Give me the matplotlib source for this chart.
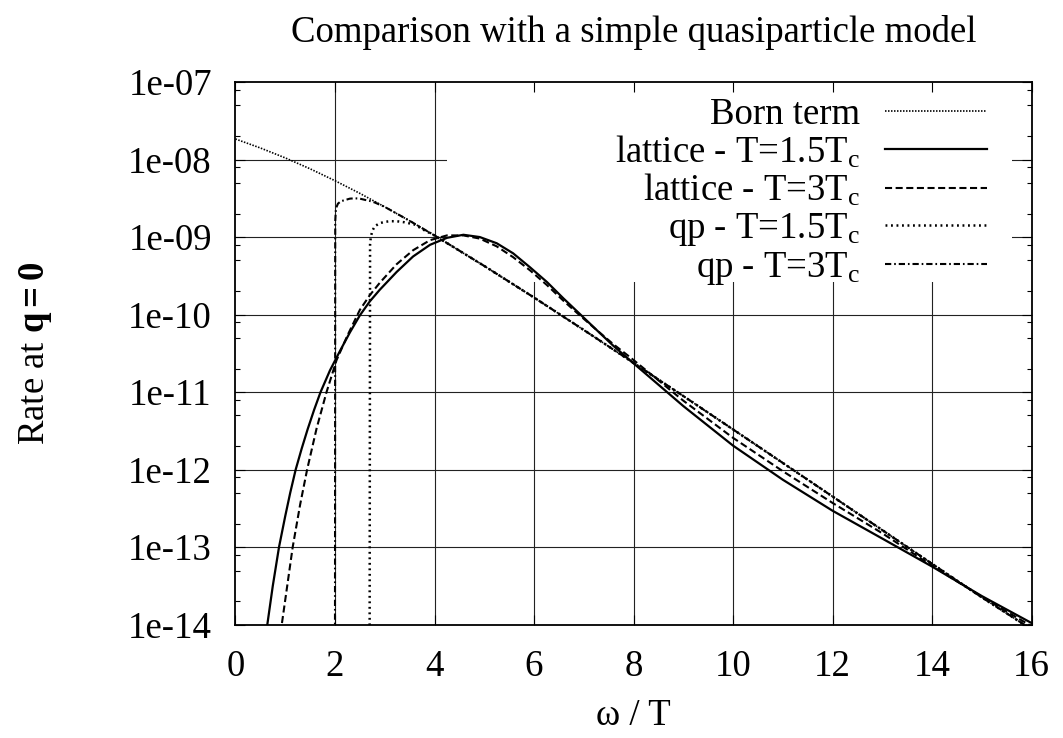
import matplotlib
matplotlib.use('Agg')
import matplotlib.pyplot as plt
from matplotlib.ticker import FixedLocator, FixedFormatter, NullFormatter
from matplotlib.patches import Rectangle

plt.rcParams['font.family'] = 'Liberation Serif'
plt.rcParams['mathtext.fontset'] = 'custom'
plt.rcParams['mathtext.rm'] = 'Liberation Serif'
plt.rcParams['mathtext.it'] = 'Liberation Serif:italic'
plt.rcParams['mathtext.bf'] = 'Liberation Serif:bold'

# Born term (free quarks)
omega_born = [0, 0.5, 1, 1.5, 2, 2.5, 3, 3.5, 4, 5, 6, 7, 8, 9, 10, 11, 12, 13, 14, 15, 16]
rate_born = [1.84e-8, 1.41e-8, 1.05e-8, 7.59e-9, 5.33e-9, 3.66e-9, 2.45e-9, 1.62e-9, 1.05e-9,
             4.24e-10, 1.66e-10, 6.33e-11, 2.38e-11, 8.9e-12, 3.3e-12, 1.22e-12, 4.5e-13,
             1.66e-13, 6.1e-14, 2.25e-14, 8.7e-15]

# lattice spectral functions
omega_lat15 = [0.6, 0.64, 0.75, 0.875, 1.0, 1.1, 1.21, 1.33, 1.45, 1.58, 1.71, 1.9, 2.1, 2.3,
               2.5, 2.7, 2.9, 3.24, 3.57, 3.91, 4.25, 4.58, 4.91, 5.25, 5.58, 5.92, 6.26,
               6.59, 6.92, 7.26, 7.59, 7.93, 9, 10, 11, 12, 13, 14, 15, 16]
rate_lat15 = [6.31e-15, 1.0e-14, 3.16e-14, 1.0e-13, 2.51e-13, 5.01e-13, 1.0e-12, 1.86e-12,
              3.31e-12, 5.89e-12, 1.0e-11, 1.91e-11, 3.39e-11, 5.89e-11, 9.77e-11, 1.48e-10,
              2.09e-10, 3.55e-10, 5.62e-10, 7.94e-10, 9.77e-10, 1.07e-9, 1.0e-9, 8.32e-10,
              6.17e-10, 4.07e-10, 2.63e-10, 1.62e-10, 1.02e-10, 6.31e-11, 3.98e-11, 2.57e-11,
              6.61e-12, 2.04e-12, 7.41e-13, 2.95e-13, 1.29e-13, 5.62e-14, 2.34e-14, 1.05e-14]

omega_lat3 = [0.88, 0.93, 1.04, 1.15, 1.3, 1.44, 1.63, 1.83, 2.03, 2.25, 2.5, 2.7, 2.9, 3.24,
              3.57, 3.91, 4.25, 4.58, 4.91, 5.25, 5.58, 5.92, 6.26, 6.59, 6.92, 7.26, 7.59,
              7.93, 9, 10, 11, 12, 13, 14, 15, 16]
rate_lat3 = [5.62e-15, 1.0e-14, 3.16e-14, 1.0e-13, 3.55e-13, 1.0e-12, 3.39e-12, 1.0e-11,
             2.57e-11, 5.37e-11, 1.15e-10, 1.78e-10, 2.57e-10, 4.47e-10, 6.76e-10, 9.12e-10,
             1.05e-9, 1.05e-9, 9.55e-10, 7.59e-10, 5.50e-10, 3.72e-10, 2.40e-10, 1.51e-10,
             9.77e-11, 6.31e-11, 4.17e-11, 2.82e-11, 7.76e-12, 2.57e-12, 9.55e-13, 3.72e-13,
             1.51e-13, 5.75e-14, 2.29e-14, 9.55e-15]

# quasiparticle model
omega_qp15 = [2.695, 2.70, 2.705, 2.72, 2.75, 2.8, 2.9, 3.0, 3.1, 3.24, 3.4, 3.6, 3.8, 4,
              5, 6, 7, 8, 9, 10, 11, 12, 13, 14, 15, 16]
rate_qp15 = [1e-15, 1e-12, 8e-10, 1.0e-9, 1.2e-9, 1.38e-9, 1.51e-9, 1.57e-9, 1.6e-9, 1.6e-9,
             1.55e-9, 1.45e-9, 1.22e-9, 1.05e-9, 4.24e-10, 1.66e-10, 6.33e-11, 2.38e-11,
             8.9e-12, 3.3e-12, 1.22e-12, 4.5e-13, 1.66e-13, 6.1e-14, 2.25e-14, 8.7e-15]

omega_qp3 = [1.999, 2.002, 2.005, 2.02, 2.06, 2.12, 2.2, 2.3, 2.4, 2.5, 2.6, 2.7, 2.8, 3.0,
             3.5, 4, 5, 6, 7, 8, 9, 10, 11, 12, 13, 14, 15, 16]
rate_qp3 = [1e-15, 1e-12, 1.6e-9, 2.35e-9, 2.7e-9, 2.9e-9, 3.0e-9, 3.13e-9, 3.16e-9, 3.13e-9,
            3.02e-9, 2.92e-9, 2.79e-9, 2.45e-9, 1.62e-9, 1.05e-9, 4.24e-10, 1.66e-10,
            6.33e-11, 2.38e-11, 8.9e-12, 3.3e-12, 1.22e-12, 4.5e-13, 1.66e-13, 6.1e-14,
            2.25e-14, 8.7e-15]

x_ticks = [0, 2, 4, 6, 8, 10, 12, 14, 16]
y_ticks = [1e-14, 1e-13, 1e-12, 1e-11, 1e-10, 1e-9, 1e-8, 1e-7]
y_labels = ['1e-14', '1e-13', '1e-12', '1e-11', '1e-10', '1e-09', '1e-08', '1e-07']
y_minor = [m * 10.0**e for e in range(-14, -7) for m in (2, 5, 8)]

fs = 26.5

fig = plt.figure(figsize=(10.63, 7.38), dpi=100)
ax = fig.add_axes([0.2215, 0.1535, 0.749, 0.7354])
ax.set_yscale('log')
ax.set_xlim(0, 16)
ax.set_ylim(1e-14, 1e-7)

# grid lines, kept under the key
for yv in y_ticks[1:-1]:
    ax.axhline(yv, color='#222222', lw=0.8, zorder=0.5)
for xv in x_ticks[1:-1]:
    ax.axvline(xv, color='#222222', lw=0.8, zorder=0.5)
ax.add_patch(Rectangle((0.266, 0.6315), 0.7095, 0.37, transform=ax.transAxes,
                       facecolor='white', edgecolor='none', zorder=1))

l_born, = ax.plot(omega_born, rate_born, color='k', lw=1.2, ls=(0, (0.9, 0.9)), zorder=3,
                  label='Born term')
l_lat15, = ax.plot(omega_lat15, rate_lat15, color='k', lw=1.6, ls='-', zorder=3,
                   label=r'lattice - T=1.5T$_{\rm c}$')
l_lat3, = ax.plot(omega_lat3, rate_lat3, color='k', lw=1.5, ls=(0, (3.4, 1.7)), zorder=3,
                  label=r'lattice - T=3T$_{\rm c}$')
l_qp15, = ax.plot(omega_qp15, rate_qp15, color='k', lw=1.8, ls=(0, (0.75, 1.45)), zorder=3,
                  label=r'qp - T=1.5T$_{\rm c}$')
l_qp3, = ax.plot(omega_qp3, rate_qp3, color='k', lw=1.5, ls=(0, (3.0, 1.4, 0.8, 1.4)), zorder=3,
                 label=r'qp - T=3T$_{\rm c}$')

ax.xaxis.set_major_locator(FixedLocator(x_ticks))
ax.yaxis.set_major_locator(FixedLocator(y_ticks))
ax.yaxis.set_major_formatter(FixedFormatter(y_labels))
ax.yaxis.set_minor_locator(FixedLocator(y_minor))
ax.yaxis.set_minor_formatter(NullFormatter())
ax.xaxis.set_minor_locator(FixedLocator([]))
ax.tick_params(which='both', direction='in', top=True, right=True, width=0.8, labelsize=fs)
ax.tick_params(which='major', length=7)
ax.tick_params(which='minor', length=3.5)
ax.tick_params(axis='y', pad=17)
ax.tick_params(axis='x', pad=18)
for sp in ax.spines.values():
    sp.set_linewidth(1.3)
    sp.set_zorder(4)

ax.set_title('Comparison with a simple quasiparticle model', fontsize=fs, pad=29)
ax.set_xlabel('ω / T', fontsize=fs, labelpad=10)
ax.set_ylabel(r'Rate at $\mathbf{q{=}0}$', fontsize=fs, labelpad=53)

ax.legend(handles=[l_born, l_lat15, l_lat3, l_qp15, l_qp3], loc='upper right',
          bbox_to_anchor=(0.944, 0.972), frameon=False, markerfirst=False,
          handlelength=2.77, handletextpad=0.68, labelspacing=0.055, borderpad=0,
          borderaxespad=0, fontsize=fs)

fig.savefig('out.png', dpi=100)
